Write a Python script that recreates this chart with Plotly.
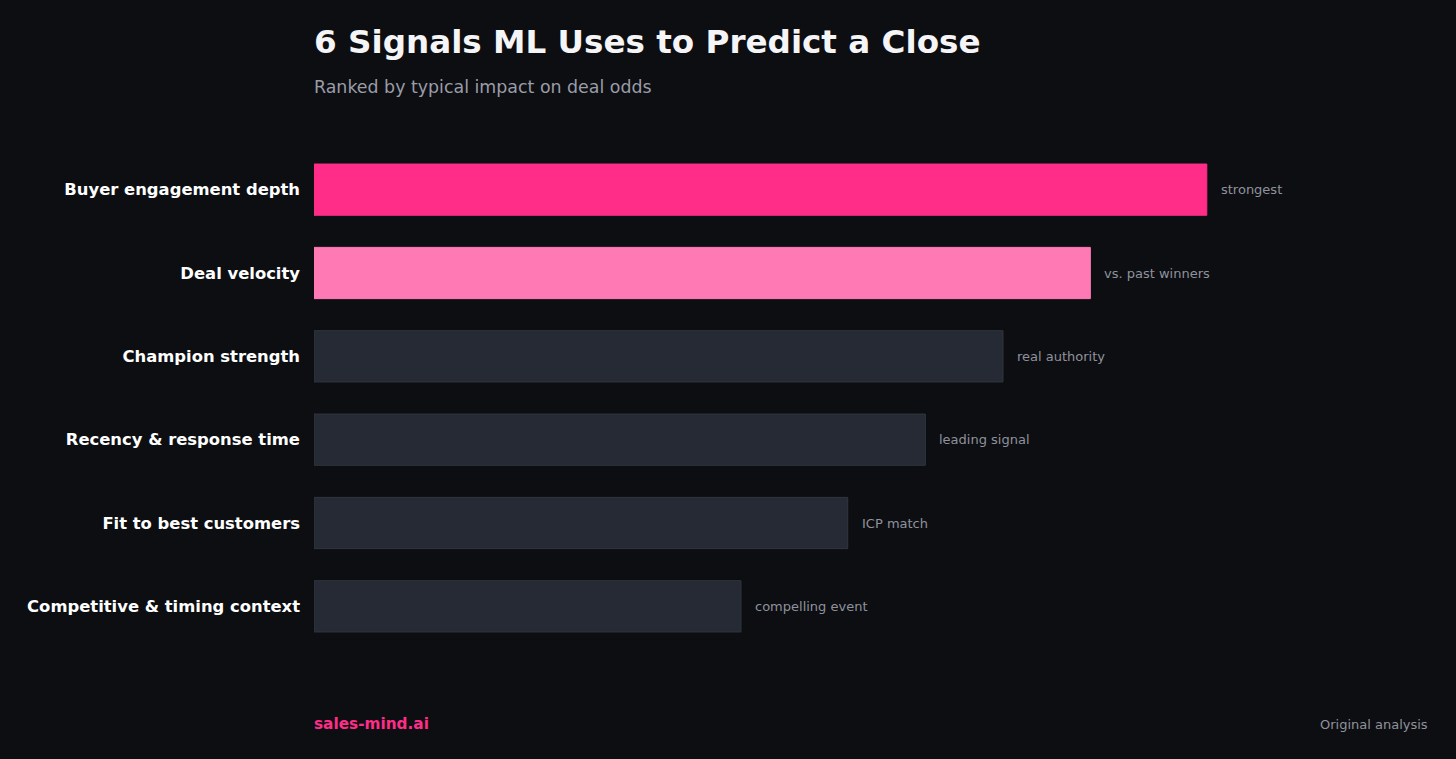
import plotly.graph_objects as go

categories = ["Buyer engagement depth", "Deal velocity", "Champion strength",
              "Recency & response time", "Fit to best customers", "Competitive & timing context"]
values = [92, 80, 71, 63, 55, 44]
notes = ["strongest", "vs. past winners", "real authority", "leading signal",
         "ICP match", "compelling event"]
bar_colors = ["#ff2d87", "#ff7ab4", "#252a35", "#252a35", "#252a35", "#252a35"]
line_colors = ["#ff2d87", "#ff7ab4", "#30353f", "#30353f", "#30353f", "#30353f"]

BG = "#0d0e12"
FONT = "DejaVu Sans"

fig = go.Figure()
fig.add_trace(go.Bar(
    x=values, y=categories, orientation="h",
    marker=dict(color=bar_colors, line=dict(color=line_colors, width=1)),
    width=0.615, hoverinfo="skip",
))

for c, v, n in zip(categories, values, notes):
    fig.add_annotation(x=v, y=c, text=n, xref="x", yref="y", showarrow=False,
                       xanchor="left", xshift=12, yanchor="middle",
                       font=dict(family=FONT, size=13, color="#8f929c"))

W, H = 1456, 759
ml, mr, mt, mb = 314, 26, 148, 111
pw, ph = W - ml - mr, H - mt - mb

def px_x(x):
    return (x - ml) / pw

def px_y(y):
    return (H - mb - y) / ph

fig.add_annotation(x=px_x(314), y=px_y(42), xref="paper", yref="paper", showarrow=False,
                   xanchor="left", yanchor="middle", xshift=-2,
                   text="<b>6 Signals ML Uses to Predict a Close</b>",
                   font=dict(family=FONT, size=32.6, color="#f5f5f7"))
fig.add_annotation(x=px_x(314), y=px_y(87), xref="paper", yref="paper", showarrow=False,
                   xanchor="left", yanchor="middle", xshift=-2,
                   text="Ranked by typical impact on deal odds",
                   font=dict(family=FONT, size=17.4, color="#9a9ca8"))
fig.add_annotation(x=px_x(314), y=px_y(724), xref="paper", yref="paper", showarrow=False,
                   xanchor="left", yanchor="middle", xshift=-2, text="<b>sales-mind.ai</b>",
                   font=dict(family=FONT, size=15.3, color="#ff2d87"))
fig.add_annotation(x=px_x(1429), y=px_y(724), xref="paper", yref="paper", showarrow=False,
                   xanchor="right", yanchor="middle", xshift=1, text="Original analysis",
                   font=dict(family=FONT, size=13, color="#8f929c"))

fig.update_layout(
    width=W, height=H,
    margin=dict(l=ml, r=mr, t=mt, b=mb, pad=0),
    paper_bgcolor=BG, plot_bgcolor=BG,
    showlegend=False,
    xaxis=dict(range=[0, 115], showgrid=False, zeroline=False, showticklabels=False,
               showline=False, fixedrange=True),
    yaxis=dict(categoryorder="array", categoryarray=categories, autorange="reversed",
               showgrid=False, zeroline=False, showline=False, ticks="",
               ticklabelstandoff=13,
               tickfont=dict(family=FONT, size=16.4, color="#ffffff", weight="bold")),
    font=dict(family=FONT),
)

fig.write_html("out.html")
